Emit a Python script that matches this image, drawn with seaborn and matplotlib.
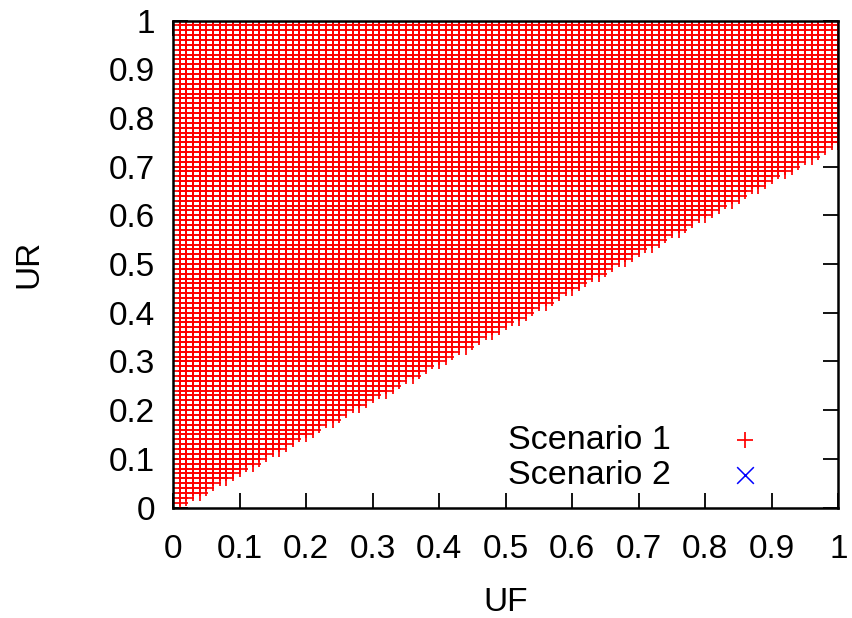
import numpy as np
import pandas as pd
import matplotlib
matplotlib.use("Agg")
import matplotlib.pyplot as plt
import seaborn as sns

# grid of scenario points (step 0.01 on both axes)
uf_levels = np.round(np.arange(1, 101) / 100, 2)
ur_levels = np.round(np.arange(1, 101) / 100, 2)
# lower edge of the red region: UR >= 0.75 * UF
edge_slope = 0.75

tick_vals = [0, 0.1, 0.2, 0.3, 0.4, 0.5, 0.6, 0.7, 0.8, 0.9, 1]
tick_labels = ["0", "0.1", "0.2", "0.3", "0.4", "0.5", "0.6", "0.7", "0.8", "0.9", "1"]

uf_grid, ur_grid = np.meshgrid(uf_levels, ur_levels)
df = pd.DataFrame({"UF": uf_grid.ravel(), "UR": ur_grid.ravel()})
scen1 = df[df["UR"] >= edge_slope * df["UF"] - 1e-9]
scen2 = df.iloc[0:0]  # Scenario 2 has no points

sns.set_theme(style="ticks")
plt.rcParams["font.family"] = ["Liberation Sans", "DejaVu Sans"]
plt.rcParams["text.color"] = "black"
plt.rcParams["axes.labelcolor"] = "black"

fig = plt.figure(figsize=(8.53, 6.18), dpi=100)
ax = fig.add_axes([0.2028, 0.1788, 0.780, 0.788])

sns.scatterplot(data=scen1, x="UF", y="UR", marker="+", color="#ff0000",
                s=144, linewidth=1.25, ax=ax, label="Scenario 1", zorder=2)
ax.scatter(scen2["UF"], scen2["UR"], marker="x", color="#0000ff",
           s=144, linewidth=1.1, label="Scenario 2")

ax.set_xlim(0, 1)
ax.set_ylim(0, 1)
ax.set_xticks(tick_vals)
ax.set_xticklabels(tick_labels)
ax.set_yticks(tick_vals)
ax.set_yticklabels(tick_labels)
ax.tick_params(direction="in", length=11, width=1.3, labelsize=24,
               top=True, right=True, colors="black", labelcolor="black")
ax.tick_params(axis="x", pad=19)
ax.tick_params(axis="y", pad=13)
for sp in ax.spines.values():
    sp.set_linewidth(1.8)
    sp.set_color("black")
    sp.set_zorder(5)

ax.set_xlabel("UF", fontsize=24, labelpad=16, color="black")
ax.set_ylabel("UR", fontsize=24, labelpad=46, color="black")

ax.legend(loc="center", bbox_to_anchor=(0.707, 0.102), frameon=False,
          markerfirst=False, fontsize=24.5, handlelength=2, handletextpad=1.2,
          labelspacing=0.12, borderpad=0, borderaxespad=0)

fig.savefig("out.png", dpi=100)
